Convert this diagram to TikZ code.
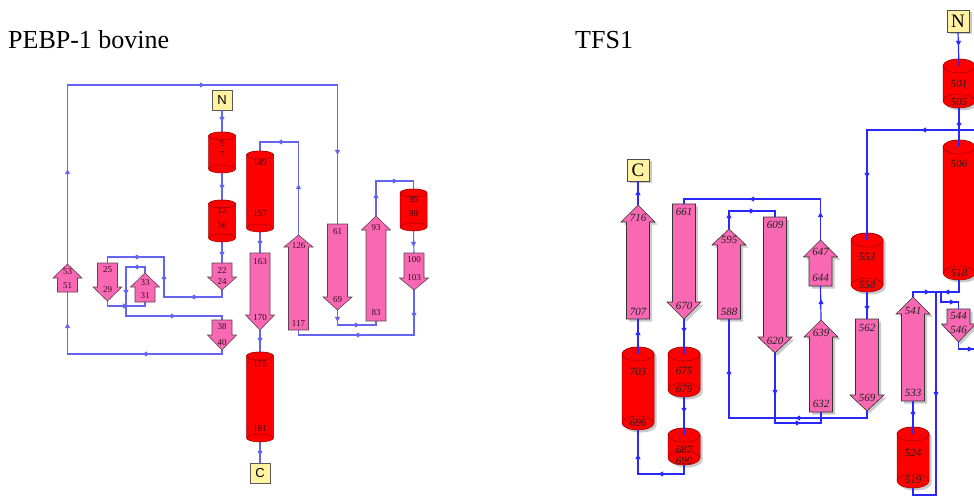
\documentclass[tikz,border=0pt]{standalone}
\usepackage{fontspec}
\setmainfont{Liberation Serif}
\newfontfamily\sanf{Liberation Sans}
\usetikzlibrary{shadows}
\definecolor{hred}{HTML}{FF0000}
\definecolor{hline}{HTML}{9A0000}
\definecolor{spink}{HTML}{F968B2}
\definecolor{sline}{HTML}{5C4452}
\definecolor{lblue}{HTML}{6464F0}
\definecolor{rblue}{HTML}{2828FF}
\definecolor{boxy}{HTML}{FFF2A0}
\definecolor{llab}{HTML}{3A0A1E}
\definecolor{rlab}{HTML}{202020}
\def\sw{10}\def\sW{14.5}\def\cry{4}\def\hr{13.5}
\newcommand\strand[9]{%
  \coordinate (#1a) at (#2,#3);\coordinate (#1b) at (#2,#5);
  \fill[shadowsty,xshift=2.5pt,yshift=-2.5pt] ({#2-\sw},{#3}) -- ({#2-\sw},{#4}) -- ({#2-\sW},{#4}) -- ({#2},{#5}) -- ({#2+\sW},{#4}) -- ({#2+\sw},{#4}) -- ({#2+\sw},{#3}) -- cycle;
  \filldraw[strandsty] ({#2-\sw},{#3}) -- ({#2-\sw},{#4}) -- ({#2-\sW},{#4}) -- ({#2},{#5}) -- ({#2+\sW},{#4}) -- ({#2+\sw},{#4}) -- ({#2+\sw},{#3}) -- cycle;
  \node[labsty] (#1l1) at (#2,#7) {#6};
  \node[labsty] (#1l2) at (#2,#9) {#8};}
\newcommand\helix[8]{%
  \coordinate (#1t) at (#2,#3);\coordinate (#1b) at (#2,#4);\coordinate (#1c) at (#2,{#3+\cry});
  \fill[shadowsty,xshift=2.5pt,yshift=-2.5pt] ({#2-\hr},{#3+\cry}) -- ({#2-\hr},{#4-\cry}) arc[start angle=180,end angle=0,x radius=\hr,y radius=\cry] -- ({#2+\hr},{#3+\cry}) arc[start angle=0,end angle=-180,x radius=\hr,y radius=\cry] -- cycle;
  \filldraw[helixsty] ({#2-\hr},{#3+\cry}) -- ({#2-\hr},{#4-\cry}) arc[start angle=180,end angle=0,x radius=\hr,y radius=\cry] -- ({#2+\hr},{#3+\cry}) arc[start angle=0,end angle=-180,x radius=\hr,y radius=\cry] -- cycle;
  \draw[helixsty] ({#2},{#3+\cry}) ellipse[x radius=\hr,y radius=\cry];
  \draw[hline,line width=0.5pt] ({#2-\hr},{#4-\cry}) arc[start angle=180,end angle=360,x radius=\hr,y radius=\cry];
  \node[labsty] (#1l1) at (#2,#6) {#5};
  \node[labsty] (#1l2) at (#2,#8) {#7};}
\newcommand\am[3]{\fill[amcol,shift={(#1,#2)},rotate=#3] (2.8pt,0pt) -- (-2.2pt,2.7pt) -- (-2.2pt,-2.7pt) -- cycle;}
\begin{document}
\begin{tikzpicture}[x=1pt,y=-1pt,
  helixsty/.style={fill=hred,draw=hline,line width=0.5pt},
  lconn/.style={draw=lblue,line width=1.1pt},
  rconn/.style={draw=rblue,line width=1.2pt},
  lbox/.style={draw=gray!70!black,fill=boxy,minimum size=20pt,inner sep=0pt,line width=0.6pt,font=\sanf\fontsize{13}{13}\selectfont},
  rbox/.style={draw=gray!60!black,fill=boxy,minimum size=22pt,inner sep=0pt,line width=0.6pt,font=\fontsize{19}{19}\selectfont,drop shadow={shadow xshift=2.5pt,shadow yshift=-2.5pt,fill=gray!60,opacity=0.7}},
  title/.style={anchor=base west,inner sep=0pt,font=\fontsize{26}{30}\selectfont}]
\useasboundingbox (0,0) rectangle (974,497);
\begin{scope}
\clip (0,0) rectangle (974,497);
\node[title] (t1) at (8,49) {PEBP-1 bovine};
\node[title] (t2) at (575,49) {TFS1};
% ================= LEFT: PEBP-1 bovine =================
\tikzset{shadowsty/.style={fill=none},
  strandsty/.style={fill=spink,draw=sline,line width=0.6pt},
  labsty/.style={inner sep=0pt,text=llab,font=\fontsize{9}{9}\selectfont},
  amcol/.style={fill=lblue}}
\node[lbox] (nL) at (222,100) {N};
\node[lbox] (cL) at (260,473) {C};
\coordinate (h5t) at (222,132);\coordinate (h12t) at (222,200);\coordinate (h149t) at (260,151);
\coordinate (h95t) at (413.5,189);\coordinate (h175t) at (260,352);
\coordinate (h5b) at (222,173);\coordinate (h12b) at (222,242);\coordinate (h149b) at (260,232);
\coordinate (h95b) at (413.5,231);\coordinate (h175b) at (260,442);
\coordinate (s163a) at (260,253);\coordinate (s163b) at (260,330);
\coordinate (s117a) at (298.5,330);\coordinate (s117b) at (298.5,235);
\coordinate (s61a) at (337.5,224);\coordinate (s61b) at (337.5,310);
\coordinate (s83a) at (376,321);\coordinate (s83b) at (376,216);
\coordinate (s100a) at (414,253);\coordinate (s100b) at (414,290);
\coordinate (s51a) at (67.5,292);\coordinate (s51b) at (67.5,264);
\coordinate (s25a) at (107.5,263);\coordinate (s25b) at (107.5,301);
\coordinate (s31a) at (145,302);\coordinate (s31b) at (145,273);
\coordinate (s22a) at (222,263);\coordinate (s22b) at (222,290);
\coordinate (s38a) at (222,320);\coordinate (s38b) at (222,350);
\draw[lconn] (nL.south) -- (h5t);
\draw[lconn] (h5b) -- (h12t);
\draw[lconn] (h12b) -- (s22a);
\draw[lconn] (s22b) -- (222,297) -- (164,297) -- (164,257) -- (107.5,257) -- (s25a);
\draw[lconn] (s25b) -- (107.5,306) -- (145,306) -- (s31a);
\draw[lconn] (s31b) -- (145,267) -- (126,267) -- (126,316) -- (222,316) -- (s38a);
\draw[lconn] (s38b) -- (222,354) -- (67.5,354) -- (s51a);
\draw[lconn] (s51b) -- (67.5,85) -- (337.5,85) -- (s61a);
\draw[lconn] (s61b) -- (337.5,325) -- (376,325) -- (s83a);
\draw[lconn] (s83b) -- (376,181) -- (413.5,181) -- (h95t);
\draw[lconn] (h95b) -- (s100a);
\draw[lconn] (s100b) -- (414,335) -- (298.5,335) -- (s117a);
\draw[lconn] (s117b) -- (298.5,142) -- (260,142) -- (h149t);
\draw[lconn] (h149b) -- (s163a);
\draw[lconn] (s163b) -- (h175t);
\draw[lconn] (h175b) -- (cL.north);
\am{222}{119}{270}\am{222}{187}{270}\am{222}{254}{270}
\am{193}{297}{180}\am{164}{277}{90}\am{136}{257}{180}
\am{125}{306}{0}
\am{136}{267}{180}\am{126}{292}{270}\am{173}{316}{0}
\am{145}{354}{180}\am{67.5}{326}{90}
\am{202}{85}{0}\am{67.5}{172}{90}\am{337.5}{152}{270}
\am{337.5}{319}{270}\am{357}{325}{0}
\am{376}{196}{90}\am{395}{181}{0}
\am{413.5}{244}{270}
\am{414}{315}{270}\am{357}{335}{180}
\am{298.5}{187}{90}\am{280}{142}{180}
\am{260}{243}{270}\am{260}{340}{270}\am{260}{453}{270}
\helix{h5}{222}{132}{173}{5}{144}{7}{155}
\helix{h12}{222}{200}{242}{12}{211}{16}{226}
\helix{h149}{260}{151}{232}{149}{163}{157}{214}
\helix{h95}{413.5}{189}{231}{95}{200}{99}{214}
\helix{h175}{260}{352}{442}{175}{364}{181}{429}
\strand{s163}{260}{253}{315}{330}{163}{262}{170}{318}
\strand{s117}{298.5}{330}{247}{235}{117}{324}{126}{246}
\strand{s61}{337.5}{224}{297}{310}{61}{232}{69}{300}
\strand{s83}{376}{321}{230}{216}{83}{313}{93}{228}
\strand{s100}{414}{253}{278}{290}{100}{260}{103}{278}
\strand{s51}{67.5}{292}{278}{264}{51}{286}{53}{272}
\strand{s25}{107.5}{263}{287}{301}{25}{270}{29}{290}
\strand{s31}{145}{302}{287}{273}{31}{296}{33}{283}
\strand{s22}{222}{263}{277}{290}{22}{271}{24}{282}
\strand{s38}{222}{320}{335}{350}{38}{327}{40}{343}
% ================= RIGHT: TFS1 =================
\def\sw{11.5}\def\sW{17}\def\cry{7}\def\hr{16}
\tikzset{shadowsty/.style={fill=gray!70,opacity=0.6},
  strandsty/.style={fill=spink,draw=gray!40!black,line width=0.6pt},
  labsty/.style={inner sep=0pt,text=rlab,font=\itshape\fontsize{11}{11}\selectfont},
  amcol/.style={fill=rblue}}
\node[rbox] (nR) at (958,21) {N};
\node[rbox] (cR) at (638,170) {C};
\helix{h501}{959}{59}{108}{501}{84}{505}{102}
\helix{h506}{959}{140}{280}{506}{164}{518}{273}
\helix{h553}{867}{233}{292}{553}{257}{558}{285}
\helix{h675}{684}{347}{397}{675}{371}{679}{389}
\helix{h687}{684}{428}{465}{687}{450}{690}{461}
\helix{h696}{638}{347}{430}{703}{372}{696}{423}
\helix{h519}{913}{427}{488}{524}{453}{519}{480}
\strand{s707}{638}{319}{222}{205}{707}{312}{716}{218}
\strand{s661}{684}{204}{302}{319}{661}{212}{670}{306}
\strand{s588}{729}{319}{245}{229}{588}{312}{595}{240}
\strand{s609}{775}{217}{337}{353}{609}{225}{620}{341}
\strand{s632}{821}{412}{337}{320}{632}{404}{639}{333}
\strand{s644}{820.5}{286}{257}{240}{644}{278}{647}{252}
\strand{s562}{867}{319}{395}{411}{562}{328}{569}{398}
\strand{s533}{913}{401}{314}{297}{533}{393}{541}{311}
\strand{s544}{958.5}{309}{324}{342}{544}{316}{546}{330}
\draw[rconn] (nR.south) -- (h501c);
\draw[rconn] (h501b) -- (h506c);
\draw[rconn] (974,130) -- (867,130) -- (h553c);
\draw[rconn] (h553b) -- (s562a);
\draw[rconn] (s562b) -- (867,418) -- (729,418) -- (s588a);
\draw[rconn] (s588b) -- (729,211) -- (775,211) -- (s609a);
\draw[rconn] (s609b) -- (775,423) -- (821,423) -- (s632a);
\draw[rconn] (s632b) -- (s644a);
\draw[rconn] (s644b) -- (820.5,199) -- (684,199) -- (s661a);
\draw[rconn] (s661b) -- (h675c);
\draw[rconn] (h675b) -- (h687c);
\draw[rconn] (h687b) -- (684,474) -- (638,474) -- (h696b);
\draw[rconn] (h696c) -- (s707a);
\draw[rconn] (s707b) -- (cR.south);
\draw[rconn] (h506b) -- (959,292) -- (936,292) -- (936,495) -- (913,495) -- (h519b);
\draw[rconn] (h519c) -- (s533a);
\draw[rconn] (s533b) -- (913,292) -- (941,292) -- (941,302) -- (958.5,302) -- (s544a);
\draw[rconn] (s544b) -- (958.5,349) -- (974,349);
\am{958.5}{43}{270}\am{959}{125}{270}
\am{924}{130}{180}\am{867}{175}{270}
\am{867}{308}{270}
\am{798}{418}{180}\am{729}{372}{90}
\am{729}{216}{90}\am{752}{211}{0}
\am{775}{392}{270}\am{798}{423}{0}
\am{821}{302}{90}
\am{820.5}{215}{90}\am{752}{199}{180}
\am{684}{330}{270}\am{684}{410}{270}
\am{661}{474}{180}\am{638}{457}{90}
\am{638}{333}{90}\am{638}{193}{90}
\am{913}{412}{90}
\am{947}{292}{180}\am{936}{394}{270}
\am{927}{292}{0}\am{952}{302}{0}
\am{970}{349}{0}
\end{scope}
\end{tikzpicture}
\end{document}
